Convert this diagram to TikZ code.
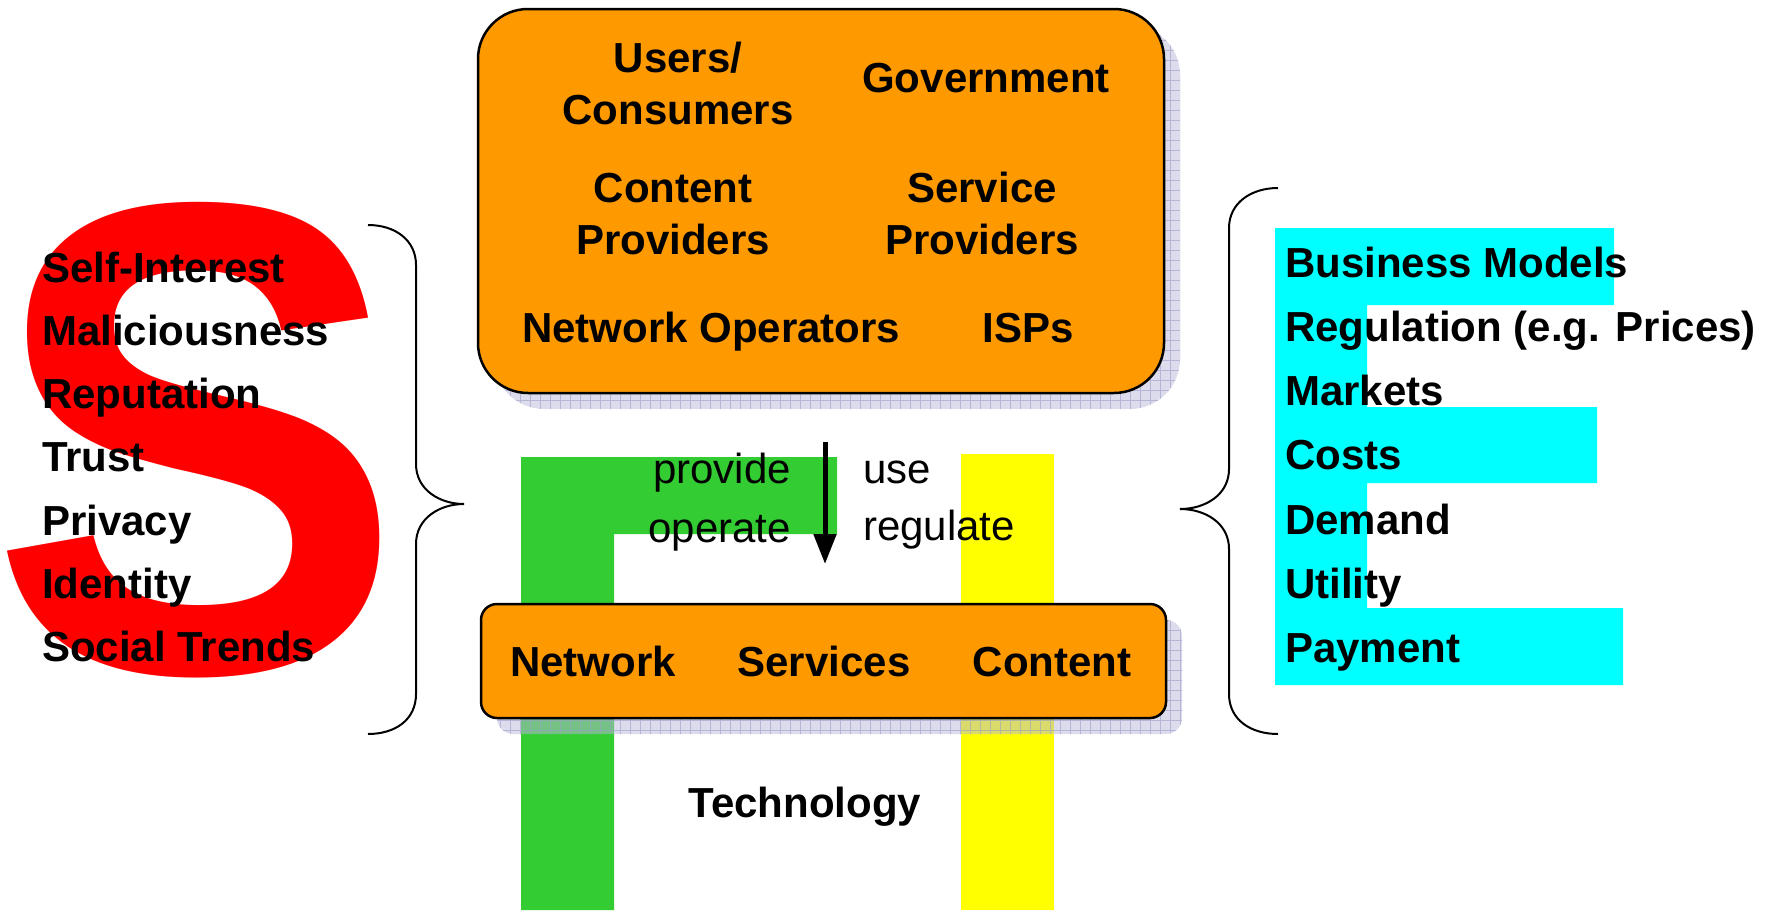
\documentclass[tikz,border=0pt]{standalone}
\usepackage{fontspec}
\setmainfont{Liberation Sans}
\usetikzlibrary{positioning,arrows.meta}

\definecolor{boxorange}{HTML}{FF9900}
\definecolor{sred}{HTML}{FF0000}
\definecolor{tgreen}{HTML}{33CC33}
\definecolor{tyellow}{HTML}{FFFF00}
\definecolor{ecyan}{HTML}{00FFFF}
\definecolor{shadowfill}{HTML}{B9B9D9}
\definecolor{shadowgrid}{HTML}{9C9CC8}

\begin{document}
\begin{tikzpicture}[x=1pt,y=-1pt,
	word/.style={font=\fontsize{42}{52}\selectfont\bfseries, inner sep=0pt, align=center},
	verb/.style={font=\fontsize{42}{52}\selectfont, inner sep=0pt},
	actorbox/.style={draw=black, line width=2.5pt, fill=boxorange},
	brace/.style={draw=black, line width=2pt}]
	\useasboundingbox (0,0) rectangle (1777,910);

	% big letters S, E and the two bars
	\node[text=sred, font=\fontsize{672}{672}\selectfont\bfseries, inner sep=0pt, xscale=0.925, transform shape] (bigs) at (197,440) {S};
	\fill[ecyan] (1275,228) -- (1614,228) -- (1614,305) -- (1367,305) -- (1367,407) -- (1597,407) -- (1597,483) -- (1367,483) -- (1367,608) -- (1623,608) -- (1623,685) -- (1275,685) -- cycle;
	\fill[tgreen] (521,910) -- (521,457) -- (837,457) -- (837,534) -- (614,534) -- (614,910) -- cycle;
	\fill[tyellow] (961,454) rectangle (1054,910);

	% shadows
	\fill[shadowfill, fill opacity=0.5, rounded corners=50] (494,25) rectangle (1180,409);
	\begin{scope}
		\clip[rounded corners=50] (494,25) rectangle (1180,409);
		\draw[shadowgrid, line width=0.8pt, opacity=0.6, step=10pt] (490,20) grid (1190,410);
	\end{scope}
	\fill[shadowfill, fill opacity=0.5, rounded corners=16] (497,620) rectangle (1182,734);
	\begin{scope}
		\clip[rounded corners=16] (497,620) rectangle (1182,734);
		\draw[shadowgrid, line width=0.8pt, opacity=0.6, step=10pt] (490,610) grid (1190,740);
	\end{scope}

	% boxes
	\node[actorbox, rounded corners=50, minimum width=686pt, minimum height=384pt] (actors) at (821,201) {};
	\node[actorbox, rounded corners=16, minimum width=685pt, minimum height=114pt] (tech) at (823.5,661) {};

	\node[word, anchor=base] (users) at (678,124) {Users/\\Consumers};
	\node[word, anchor=base] (gov) at (986,92) {Government};
	\node[word, anchor=base] (cprov) at (673,254) {Content\\Providers};
	\node[word, anchor=base] (sprov) at (982,254) {Service\\Providers};
	\node[word, anchor=base west] (netop) at (522,342) {Network Operators};
	\node[word, anchor=base] (isps) at (1028,342) {ISPs};

	\node[word, anchor=base] (network) at (593,676) {Network};
	\node[word, anchor=base] (services) at (824,676) {Services};
	\node[word, anchor=base] (content) at (1052,676) {Content};
	\node[word, anchor=base] (technology) at (805,817) {Technology};

	% verbs and arrow
	\coordinate (from) at (825,442);
	\coordinate (to) at (825,564);
	\draw[-{Triangle[length=30pt,width=22pt]}, line width=5pt] (from) -- (to);
	\node[verb, anchor=base east] (provide) at (791,483) {provide};
	\node[verb, anchor=base east] (operate) at (791,542) {operate};
	\node[verb, anchor=base west] (use) at (863,483) {use};
	\node[verb, anchor=base west] (regulate) at (863,540) {regulate};

	% social and economic lists
	\foreach \t [count=\i from 0] in {Self-Interest,Maliciousness,Reputation,Trust,Privacy,Identity,Social Trends}
		\node[word, anchor=base west] (soc\i) at (42,282+63.3*\i) {\t};
	\foreach \t [count=\i from 0] in {Business Models,Regulation (e.g. Prices),Markets,Costs,Demand,Utility,Payment}
		\node[word, anchor=base west] (eco\i) at (1285,277+64.3*\i) {\t};

	% braces
	\draw[brace] (368,225) .. controls (395,225) and (416,240) .. (416,265) -- (416,464) .. controls (416,490) and (440,504) .. (464,504) .. controls (440,504) and (416,518) .. (416,544) -- (416,694) .. controls (416,720) and (395,734) .. (368,734);
	\draw[brace] (1278,188) .. controls (1251,188) and (1229,203) .. (1229,228) -- (1229,469) .. controls (1229,495) and (1205,509) .. (1180,509) .. controls (1205,509) and (1229,523) .. (1229,549) -- (1229,694) .. controls (1229,720) and (1251,734) .. (1278,734);
\end{tikzpicture}
\end{document}
